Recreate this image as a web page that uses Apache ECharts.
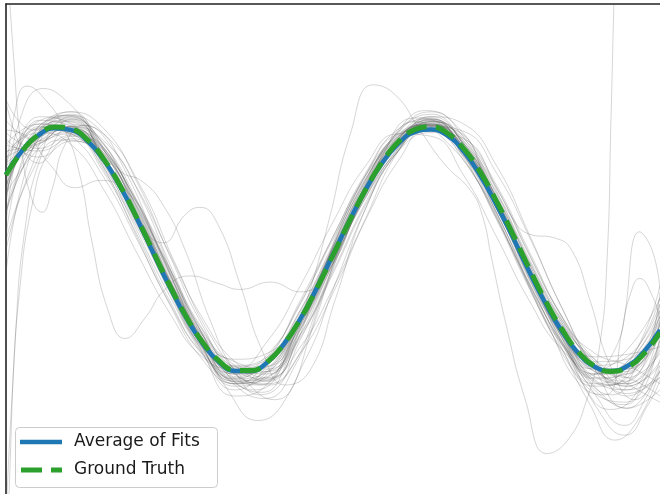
<!DOCTYPE html>
<html>
<head>
<meta charset="utf-8">
<script src="https://cdn.jsdelivr.net/npm/echarts@6/dist/echarts.min.js"></script>
<style>
  html, body { margin: 0; padding: 0; background: #ffffff; }
  #chart { width: 660px; height: 494px; }
</style>
</head>
<body>
<div id="chart"></div>
<script>
// Sample positions for the reference curves
const curveX = [0, 0.025, 0.05, 0.075, 0.1, 0.125, 0.15, 0.175, 0.2, 0.225, 0.25, 0.275, 0.3, 0.325, 0.35, 0.375,
  0.4, 0.425, 0.45, 0.475, 0.5, 0.525, 0.55, 0.575, 0.6, 0.625, 0.65, 0.675, 0.7, 0.725, 0.75, 0.775,
  0.8, 0.825, 0.85, 0.875, 0.9, 0.925, 0.95, 0.975, 1];

const groundTruth = [0.603, 0.800, 0.934, 0.996, 0.981, 0.890, 0.730, 0.513, 0.257, -0.020, -0.295, -0.546,
  -0.756, -0.909, -0.989, -0.992, -0.920, -0.776, -0.573, -0.325, -0.051, 0.226, 0.486, 0.708, 0.875, 0.975,
  0.999, 0.945, 0.819, 0.629, 0.391, 0.122, -0.157, -0.423, -0.654, -0.838, -0.957, -1.000, -0.966, -0.857, -0.682];

const averageOfFits = [0.610, 0.805, 0.930, 0.985, 0.970, 0.880, 0.722, 0.505, 0.250, -0.030, -0.305, -0.556,
  -0.766, -0.918, -0.995, -0.995, -0.922, -0.775, -0.570, -0.320, -0.045, 0.230, 0.485, 0.700, 0.860, 0.955,
  0.975, 0.925, 0.795, 0.600, 0.360, 0.095, -0.185, -0.445, -0.672, -0.850, -0.962, -0.995, -0.955, -0.840, -0.660];

// Positions shared by the well-behaved fits
const fitX = [0, 0.05, 0.1, 0.15, 0.2, 0.25, 0.3, 0.35, 0.4, 0.45, 0.5, 0.55, 0.6, 0.65, 0.7, 0.75, 0.8, 0.85, 0.9, 0.95, 1];

const fit01 = [0.45, 0.98, 1.05, 0.72, 0.22, -0.33, -0.82, -1.08, -0.98, -0.55, -0.02, 0.52, 0.92, 1.08, 0.85, 0.36, -0.22, -0.72, -1.05, -1.02, -0.60];
const fit02 = [0.70, 0.88, 0.95, 0.78, 0.30, -0.25, -0.70, -1.02, -1.00, -0.62, -0.10, 0.44, 0.84, 0.98, 0.86, 0.45, -0.10, -0.60, -0.98, -1.10, -0.75];
const fit03 = [0.30, 0.90, 1.10, 0.80, 0.24, -0.35, -0.80, -0.95, -0.88, -0.58, -0.08, 0.46, 0.90, 1.05, 0.80, 0.34, -0.20, -0.70, -0.92, -0.90, -0.55];
const fit04 = [0.85, 0.80, 0.90, 0.70, 0.28, -0.22, -0.74, -1.10, -1.05, -0.60, -0.02, 0.55, 0.94, 1.02, 0.78, 0.35, -0.18, -0.62, -0.90, -1.05, -0.85];
const fit05 = [0.55, 1.02, 0.96, 0.66, 0.20, -0.30, -0.78, -1.04, -0.90, -0.50, 0.02, 0.52, 0.86, 0.96, 0.80, 0.42, -0.12, -0.68, -1.02, -0.92, -0.40];
const fit06 = [0.65, 0.85, 1.00, 0.82, 0.35, -0.20, -0.68, -0.95, -1.08, -0.70, -0.12, 0.42, 0.80, 0.95, 0.90, 0.50, -0.05, -0.55, -0.90, -1.12, -0.95];
const fit07 = [-0.20, 0.95, 1.12, 0.70, 0.15, -0.38, -0.85, -1.15, -0.95, -0.52, 0.00, 0.50, 0.95, 1.10, 0.84, 0.30, -0.25, -0.78, -1.10, -0.95, -0.30];
const fit08 = [0.90, 0.75, 0.88, 0.76, 0.32, -0.26, -0.72, -0.98, -0.96, -0.62, -0.06, 0.45, 0.85, 1.04, 0.88, 0.40, -0.14, -0.60, -0.94, -1.20, -1.00];
const fit09 = [0.50, 0.95, 1.02, 0.74, 0.25, -0.28, -0.77, -1.02, -0.94, -0.56, -0.04, 0.50, 0.90, 1.02, 0.83, 0.38, -0.17, -0.66, -0.98, -0.98, -0.70];
const fit10 = [1.20, 0.70, 0.92, 0.78, 0.28, -0.30, -0.75, -0.92, -0.98, -0.65, -0.08, 0.48, 0.86, 0.98, 0.80, 0.40, -0.15, -0.63, -0.95, -1.00, -0.50];
const fit11 = [0.40, 1.00, 0.94, 0.70, 0.27, -0.27, -0.80, -1.12, -1.02, -0.55, 0.00, 0.54, 0.90, 0.97, 0.78, 0.36, -0.20, -0.70, -1.08, -1.15, -0.60];
const fit12 = [0.75, 0.90, 1.08, 0.76, 0.22, -0.32, -0.74, -0.96, -0.90, -0.60, -0.10, 0.42, 0.82, 1.06, 0.86, 0.42, -0.12, -0.62, -0.88, -0.86, -0.80];
const fit13 = [0.20, 1.05, 1.00, 0.68, 0.24, -0.30, -0.84, -1.20, -1.10, -0.58, 0.02, 0.56, 0.92, 1.00, 0.76, 0.33, -0.24, -0.75, -1.18, -1.25, -0.70];
const fit14 = [0.95, 0.82, 0.93, 0.80, 0.34, -0.24, -0.70, -0.90, -0.85, -0.55, -0.06, 0.47, 0.87, 1.01, 0.84, 0.43, -0.10, -0.58, -0.85, -0.95, -1.10];
const fit15 = [0.58, 0.92, 0.99, 0.72, 0.23, -0.31, -0.79, -1.06, -1.00, -0.60, -0.07, 0.50, 0.91, 1.03, 0.81, 0.37, -0.18, -0.69, -1.04, -1.10, -0.82];
const fit16 = [0.35, 1.08, 1.02, 0.64, 0.18, -0.34, -0.83, -1.05, -0.92, -0.50, 0.04, 0.57, 0.93, 1.01, 0.79, 0.33, -0.21, -0.66, -0.95, -0.88, -0.45];
const fit17 = [0.80, 0.86, 0.97, 0.77, 0.31, -0.26, -0.73, -1.00, -1.02, -0.66, -0.12, 0.43, 0.83, 1.00, 0.88, 0.46, -0.08, -0.58, -0.95, -1.15, -1.05];
const fit18 = [0.62, 0.94, 1.04, 0.75, 0.24, -0.30, -0.80, -1.10, -1.00, -0.54, 0.00, 0.52, 0.89, 1.04, 0.82, 0.38, -0.18, -0.72, -1.12, -1.30, -0.90];
const fit19 = [0.48, 0.99, 1.00, 0.70, 0.26, -0.27, -0.76, -1.00, -0.96, -0.58, -0.05, 0.48, 0.88, 1.02, 0.84, 0.40, -0.16, -0.64, -0.96, -1.02, -0.58];
const fit20 = [0.68, 0.86, 0.94, 0.74, 0.29, -0.25, -0.72, -0.97, -0.93, -0.59, -0.08, 0.46, 0.86, 1.06, 0.86, 0.39, -0.19, -0.70, -1.00, -1.08, -0.35];
const fit21 = [0.52, 0.96, 1.06, 0.71, 0.21, -0.33, -0.81, -1.08, -1.04, -0.62, -0.06, 0.49, 0.88, 0.99, 0.80, 0.37, -0.17, -0.67, -1.00, -1.05, -1.20];
const fit22 = [0.58, 0.91, 0.97, 0.74, 0.27, -0.28, -0.75, -0.99, -0.93, -0.56, -0.04, 0.50, 0.89, 1.01, 0.83, 0.39, -0.15, -0.65, -0.97, -0.98, -0.66];
const fit35 = [0.30, 0.90, 1.12, 0.98, 0.55, -0.05, -0.62, -1.02, -1.10, -0.85, -0.36, 0.25, 0.80, 1.08, 1.02, 0.68, 0.12, -0.48, -0.95, -1.12, -0.92];
const fit36 = [0.78, 0.95, 0.85, 0.48, -0.03, -0.52, -0.88, -0.98, -0.75, -0.30, 0.22, 0.68, 0.94, 0.92, 0.60, 0.10, -0.42, -0.82, -0.98, -0.82, -0.40];
const fit37 = [0.45, 0.82, 1.00, 0.88, 0.50, -0.04, -0.56, -0.92, -1.05, -0.80, -0.32, 0.24, 0.72, 1.00, 0.96, 0.62, 0.10, -0.48, -0.98, -1.30, -1.15];
const fit38 = [0.70, 0.98, 0.94, 0.62, 0.12, -0.42, -0.85, -1.02, -0.86, -0.45, 0.10, 0.60, 0.94, 0.98, 0.72, 0.25, -0.30, -0.78, -1.02, -0.92, -0.55];
const fit39 = [1.05, 0.88, 1.06, 0.85, 0.40, -0.15, -0.65, -0.98, -1.06, -0.72, -0.20, 0.36, 0.80, 1.04, 0.92, 0.52, -0.02, -0.55, -0.92, -1.10, -1.25];
const fit40 = [0.10, 1.00, 1.08, 0.66, 0.10, -0.45, -0.90, -1.10, -0.90, -0.42, 0.10, 0.62, 0.98, 1.06, 0.74, 0.24, -0.32, -0.82, -1.12, -1.05, -0.45];
const fit41 = [0.62, 0.88, 0.98, 0.80, 0.38, -0.18, -0.66, -0.96, -1.00, -0.70, -0.18, 0.38, 0.82, 1.02, 0.90, 0.50, -0.04, -0.56, -0.96, -1.18, -1.05];
const fit42 = [0.85, 1.02, 0.92, 0.58, 0.08, -0.44, -0.86, -1.06, -0.88, -0.44, 0.08, 0.58, 0.92, 1.02, 0.76, 0.26, -0.28, -0.76, -1.06, -1.00, -0.62];

// Fits that wander off, sampled at their own [x, y] points
const fit23 = [[0, 2.52], [0.012, 1.54], [0.024, 0.81], [0.040, 0.40], [0.055, 0.30], [0.070, 0.48], [0.090, 0.85],
  [0.121, 1.01], [0.159, 0.85], [0.205, 0.44], [0.251, -0.13], [0.297, -0.66], [0.343, -1.03], [0.388, -1.11],
  [0.434, -0.78], [0.495, -0.17], [0.541, 0.40], [0.602, 0.89], [0.648, 1.07], [0.694, 0.85], [0.755, 0.24],
  [0.817, -0.46], [0.878, -0.95], [0.924, -1.11], [0.969, -0.82], [1, -0.50]];
const fit24 = [[0, 0.56], [0.014, 1.13], [0.032, 1.33], [0.060, 1.22], [0.090, 0.97], [0.113, 0.60], [0.131, 0.07],
  [0.156, -0.50], [0.182, -0.73], [0.213, -0.56], [0.243, -0.33], [0.281, -0.22], [0.324, -0.28], [0.358, -0.33],
  [0.404, -0.27], [0.450, -0.35], [0.495, -0.16], [0.541, 0.36], [0.602, 0.91], [0.648, 1.05], [0.694, 0.87],
  [0.755, 0.28], [0.817, -0.42], [0.878, -0.99], [0.927, -1.19], [0.969, -0.91], [1, -0.58]];
const fit25 = [[0, 0.40], [0.021, 1.05], [0.057, 1.31], [0.090, 1.22], [0.136, 0.93], [0.174, 0.64], [0.209, 0.55],
  [0.240, 0.36], [0.274, -0.01], [0.312, -0.58], [0.350, -1.00], [0.388, -1.19], [0.434, -0.99], [0.480, -0.42],
  [0.526, 0.24], [0.572, 0.73], [0.625, 1.07], [0.671, 0.99], [0.717, 0.60], [0.771, 0.03], [0.824, -0.58],
  [0.878, -1.07], [0.924, -1.31], [0.962, -1.19], [1, -0.74]];
const fit26 = [[0, 0.97], [0.029, 0.93], [0.067, 0.69], [0.106, 0.50], [0.144, 0.56], [0.182, 0.48], [0.220, 0.20],
  [0.258, -0.25], [0.303, -0.78], [0.350, -1.11], [0.396, -1.22], [0.442, -0.95], [0.488, -0.33], [0.534, 0.28],
  [0.587, 0.77], [0.633, 1.01], [0.687, 0.97], [0.740, 0.48], [0.794, -0.13], [0.847, -0.70], [0.901, -1.19],
  [0.946, -1.44], [0.977, -1.23], [1, -0.95]];
const fit27 = [[0, 0.07], [0.037, 0.60], [0.083, 0.89], [0.128, 0.85], [0.167, 0.56], [0.205, 0.20], [0.240, 0.05],
  [0.274, 0.28], [0.297, 0.34], [0.324, 0.20], [0.358, -0.29], [0.391, -0.82], [0.427, -1.11], [0.465, -0.99],
  [0.503, -0.42], [0.549, 0.32], [0.602, 0.82], [0.648, 0.99], [0.702, 0.81], [0.755, 0.32], [0.817, -0.33],
  [0.870, -0.87], [0.916, -1.11], [0.954, -1.07], [1, -0.66]];
const fit28 = [[0, 0.73], [0.052, 1.05], [0.098, 1.09], [0.144, 0.85], [0.205, 0.28], [0.266, -0.42], [0.327, -0.95],
  [0.381, -1.15], [0.427, -0.91], [0.465, -0.33], [0.495, 0.26], [0.526, 0.93], [0.561, 1.34], [0.595, 1.26],
  [0.633, 0.97], [0.671, 0.69], [0.710, 0.48], [0.728, 0.28], [0.743, -0.09], [0.763, -0.58], [0.794, -1.23],
  [0.827, -1.67], [0.859, -1.56], [0.888, -1.23], [0.908, -0.78], [0.919, -0.09], [0.925, 1.05], [0.930, 2.11],
  [0.936, 3.26]];
const fit29 = [[0, 1.22], [0.044, 0.97], [0.090, 0.99], [0.136, 0.89], [0.190, 0.48], [0.243, -0.09], [0.297, -0.66],
  [0.350, -1.07], [0.396, -1.07], [0.442, -0.66], [0.488, -0.13], [0.541, 0.48], [0.596, 0.89], [0.642, 1.01],
  [0.688, 0.89], [0.740, 0.44], [0.794, -0.13], [0.847, -0.66], [0.893, -1.03], [0.931, -0.82], [0.954, -0.38],
  [0.969, -0.24], [0.988, -0.38], [1, -0.58]];
const fit30 = [[0, -0.01], [0.037, 0.64], [0.083, 1.04], [0.128, 0.97], [0.182, 0.56], [0.235, -0.01], [0.289, -0.62],
  [0.343, -1.05], [0.391, -1.17], [0.434, -0.87], [0.480, -0.25], [0.526, 0.36], [0.580, 0.82], [0.625, 1.04],
  [0.667, 0.91], [0.725, 0.52], [0.778, -0.05], [0.832, -0.66], [0.878, -1.11], [0.916, -1.19], [0.942, -0.66],
  [0.969, 0.14], [0.988, -0.01], [1, -0.33]];
const fit31 = [[0, 0.44], [0.052, 1.01], [0.098, 1.07], [0.144, 0.89], [0.197, 0.40], [0.251, -0.21], [0.304, -0.78],
  [0.358, -1.09], [0.404, -1.07], [0.450, -0.66], [0.495, -0.05], [0.541, 0.52], [0.595, 0.93], [0.642, 1.13],
  [0.688, 1.01], [0.734, 0.64], [0.771, 0.28], [0.801, 0.12], [0.839, 0.09], [0.865, -0.01], [0.893, -0.42],
  [0.924, -0.95], [0.962, -1.23], [1, -0.99]];
const fit32 = [[0, -2.87], [0.006, -1.80], [0.015, -0.66], [0.029, 0.16], [0.052, 0.73], [0.083, 0.99], [0.128, 0.93],
  [0.190, 0.44], [0.251, -0.17], [0.304, -0.73], [0.358, -1.05], [0.404, -1.11], [0.450, -0.74], [0.503, -0.11],
  [0.557, 0.52], [0.610, 0.91], [0.656, 1.04], [0.702, 0.85], [0.755, 0.36], [0.809, -0.29], [0.862, -0.87],
  [0.908, -1.19], [0.946, -1.27], [0.977, -1.07], [1, -0.78]];
const fit33 = [[0, -2.21], [0.009, -1.23], [0.021, -0.33], [0.040, 0.36], [0.067, 0.81], [0.106, 1.01], [0.151, 0.93],
  [0.205, 0.52], [0.258, -0.11], [0.312, -0.70], [0.365, -1.07], [0.411, -1.23], [0.457, -0.91], [0.503, -0.29],
  [0.549, 0.32], [0.595, 0.77], [0.645, 0.97], [0.691, 0.81], [0.740, 0.40], [0.794, -0.21], [0.847, -0.78],
  [0.893, -1.27], [0.931, -1.56], [0.966, -1.40], [1, -0.99]];
const fit34 = [[0, 0.32], [0.044, 0.89], [0.090, 1.09], [0.136, 1.01], [0.182, 0.64], [0.235, -0.01], [0.289, -0.66],
  [0.339, -1.15], [0.385, -1.40], [0.427, -1.23], [0.468, -0.66], [0.511, 0.03], [0.557, 0.60], [0.602, 0.97],
  [0.651, 1.12], [0.697, 0.93], [0.748, 0.44], [0.801, -0.17], [0.855, -0.78], [0.905, -1.31], [0.946, -1.52],
  [0.982, -1.27], [1, -1.07]];

const regularFits = [fit01, fit02, fit03, fit04, fit05, fit06, fit07, fit08, fit09, fit10, fit11,
  fit12, fit13, fit14, fit15, fit16, fit17, fit18, fit19, fit20, fit21, fit22,
  fit35, fit36, fit37, fit38, fit39, fit40, fit41, fit42];
const wanderingFits = [fit23, fit24, fit25, fit26, fit27, fit28, fit29, fit30, fit31, fit32, fit33, fit34];

const legendLabels = ['Average of Fits', 'Ground Truth'];

const BLUE = '#1f77b4';
const GREEN = '#2ca02c';

const pair = (xs, ys) => xs.map((x, i) => [x, ys[i]]);

const fitSeries = regularFits.map(ys => pair(fitX, ys)).concat(wanderingFits).map(points => ({
  type: 'line',
  data: points,
  smooth: 0.5,
  symbol: 'none',
  clip: true,
  silent: true,
  lineStyle: { color: 'rgba(90,90,90,0.25)', width: 1 },
  z: 2
}));

const chart = echarts.init(document.getElementById('chart'), null, { renderer: 'canvas' });

chart.setOption({
  animation: false,
  backgroundColor: '#ffffff',
  grid: { left: 6, top: 4, right: 0, bottom: 0, containLabel: false },
  xAxis: {
    type: 'value', min: 0, max: 1, position: 'top',
    axisLine: { show: true, onZero: false, lineStyle: { color: '#222', width: 1.6 } },
    axisTick: { show: false }, axisLabel: { show: false }, splitLine: { show: false }
  },
  yAxis: {
    type: 'value', min: -2, max: 2, position: 'left',
    axisLine: { show: true, onZero: false, lineStyle: { color: '#222', width: 1.6 } },
    axisTick: { show: false }, axisLabel: { show: false }, splitLine: { show: false }
  },
  series: fitSeries.concat([
    {
      name: legendLabels[0],
      type: 'line',
      data: pair(curveX, averageOfFits),
      smooth: 0.5,
      symbol: 'none',
      lineStyle: { color: BLUE, width: 4.5 },
      z: 5
    },
    {
      name: legendLabels[1],
      type: 'line',
      data: pair(curveX, groundTruth),
      smooth: 0.5,
      symbol: 'none',
      lineStyle: { color: GREEN, width: 5, type: [21, 9] },
      z: 6
    }
  ]),
  graphic: [
    {
      type: 'group', left: 15, top: 427, z: 100,
      children: [
        { type: 'rect', shape: { x: 0.5, y: 0.5, width: 202, height: 60, r: 4 },
          style: { fill: 'rgba(255,255,255,0.8)', stroke: '#cccccc', lineWidth: 1 } },
        { type: 'line', shape: { x1: 5, y1: 15, x2: 47, y2: 15 },
          style: { stroke: BLUE, lineWidth: 4.5 } },
        { type: 'line', shape: { x1: 6, y1: 43, x2: 47, y2: 43 },
          style: { stroke: GREEN, lineWidth: 5, lineDash: [21, 9] } },
        { type: 'text', x: 59, y: 15,
          style: { text: legendLabels[0], font: '17px "DejaVu Sans"', fill: '#1a1a1a', verticalAlign: 'middle' } },
        { type: 'text', x: 59, y: 43,
          style: { text: legendLabels[1], font: '17px "DejaVu Sans"', fill: '#1a1a1a', verticalAlign: 'middle' } }
      ]
    }
  ]
});
</script>
</body>
</html>
